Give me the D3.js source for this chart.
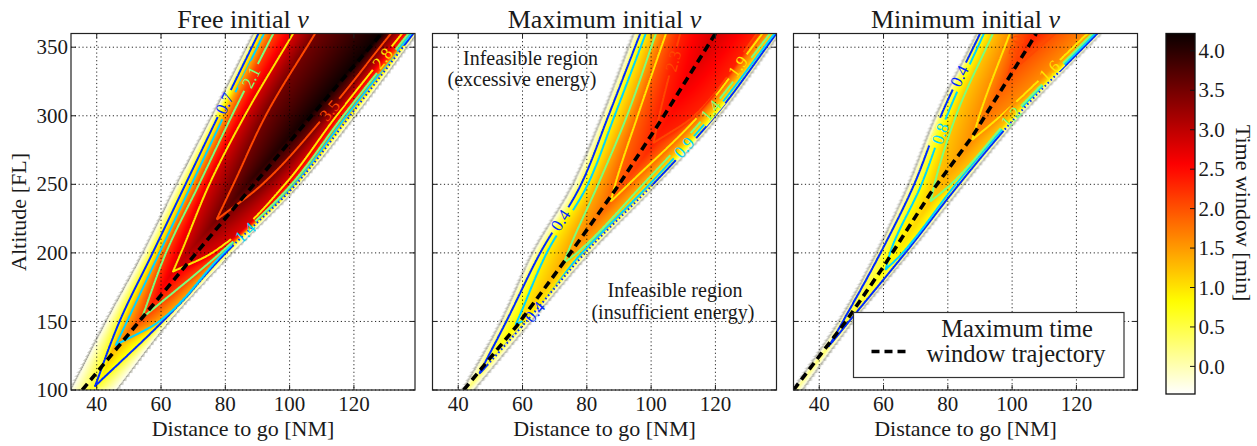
<!DOCTYPE html>
<html>
<head>
<meta charset="utf-8">
<script src="https://cdn.jsdelivr.net/npm/d3@7/dist/d3.min.js"></script>
<style>
  html,body{margin:0;padding:0;background:#fff;}
  svg{display:block;}
  text{font-family:"Liberation Serif","Times New Roman",serif;fill:#1a1a1a;}
</style>
</head>
<body>
<svg id="fig" width="1257" height="446"></svg>
<script>
// ================= DATA =================
const titles = ["Free initial", "Maximum initial", "Minimum initial"];
const titleVar = "v";
const xLabel = "Distance to go [NM]";
const yLabel = "Altitude [FL]";
const cbLabel = "Time window [min]";
const legendLines = ["Maximum time", "window trajectory"];
const noteTop = ["Infeasible region", "(excessive energy)"];
const noteBottom = ["Infeasible region", "(insufficient energy)"];
const xTicks = [40, 60, 80, 100, 120];
const yTicks = [100, 150, 200, 250, 300, 350];
const cbTicks = [0.0, 0.5, 1.0, 1.5, 2.0, 2.5, 3.0, 3.5, 4.0];
const xDomain = [32, 139];
const yDomain = [100, 360];
const cbDomain = [-0.35, 4.22];
const sampleAlt = [100, 150, 200, 250, 300, 360];

// ---- Panel 1: Free initial v ----
const p1Levels = [0.7, 1.4, 2.1, 2.8, 3.5];
const p1LevelText = ["0.7", "1.4", "2.1", "2.8", "3.5"];
const p1LeftEdge  = [32, 43, 54.5, 65, 76, 89];
const p1RightEdge = [46, 62.5, 82, 103, 120.3, 139.5];
const p1TipAlt  = [103, 132.8, 152.3, 186.3, 224];
const p1TipDist = [39.5, 45.9, 54, 63.7, 77.2];
const p1Left = [
  [null, 47.1, 57.4, 67.6, 77.8, 90.3],
  [null, 49.4, 59.5, 69.5, 79.6, 92],
  [null, null, 61.5, 71.8, 82, 94.9],
  [null, null, 66.2, 75, 86, 101.1],
  [null, null, null, 82.5, 92.5, 107.9]
];
const p1Right = [
  [null, 60.5, 80.1, 102, 118.8, 138.5],
  [null, 59.5, 79.5, 101.5, 117.7, 137.8],
  [null, null, 78.5, 100.6, 116.7, 137],
  [null, null, 76, 98.6, 114.6, 135],
  [null, null, null, 91.5, 111, 131.5]
];
const p1RidgeEnds = [37, 128.6];
const p1PeakEnds = [0.5, 4.22];
const p1PeakMidAlt = [255, 295];
const p1PeakMidVal = [3.95, 4.15];
const p1TrajDist = [35.5, 53.2, 71, 88.9, 106.8, 128.6];
const p1TrajAlt  = [100, 150, 200, 250, 300, 360];
const p1LabelLevel = [0, 2, 1, 4, 3];
const p1LabelSide  = ["L", "L", "R", "R", "R"];
const p1LabelAlt   = [309, 328, 215, 304, 342];
const p1DottedRange = [205, 352];

// ---- Panel 2: Maximum initial v ----
const p2Levels = [0.45, 0.93, 1.4, 1.87, 2.33];
const p2LevelText = ["0.4", "0.9", "1.4", "1.9", "2.3"];
const p2LeftEdge  = [41.6, 53.5, 63.3, 75.8, 85, 94.8];
const p2RightEdge = [44.7, 62.5, 80.8, 101.6, 121, 139.8];
const p2TipAlt  = [111, 147.4, 192.4, 237.4, 280];
const p2TipDist = [46.3, 57.8, 72.8, 87.4, 100.7];
const p2Left = [
  [null, 54.9, 65.5, 78.2, 86.7, 96.6],
  [null, 58.3, 67.5, 80.3, 88.6, 98.3],
  [null, null, 74, 83.5, 92.5, 101.5],
  [null, null, null, 88.8, 95.8, 104.6],
  [null, null, null, null, 102.5, 109]
];
const p2Right = [
  [null, 61.2, 79.5, 100.6, 120, 139],
  [null, 59.8, 78.5, 99.5, 118.8, 138.4],
  [null, null, 77, 97.5, 117, 137],
  [null, null, null, 93, 114.8, 134.6],
  [null, null, null, null, 113.5, 133]
];
const p2RidgeEnds = [42.6, 120];
const p2PeakEnds = [0.2, 2.85];
const p2PeakMidAlt = [320];
const p2PeakMidVal = [2.62];
const p2TrajDist = [41.7, 58.3, 73.4, 89.5, 104, 120];
const p2TrajAlt  = [100, 147, 195, 248, 300, 360];
const p2LabelLevel = [0, 0, 1, 2, 3, 4];
const p2LabelSide  = ["L", "R", "R", "R", "R", "L"];
const p2LabelAlt   = [224, 157, 277, 304, 336, 340];
const p2DottedRange = [118, 250];

// ---- Panel 3: Minimum initial v ----
const p3Levels = [0.4, 0.8, 1.2, 1.6, 2.0];
const p3LevelText = ["0.4", "0.8", "1.2", "1.6", "2.0"];
const p3LeftEdge  = [32, 46.3, 58, 68, 76.5, 89.3];
const p3RightEdge = [34.5, 50.3, 67.8, 84.8, 102.5, 127.5];
const p3TipAlt  = [131.6, 187.6, 237.4, 282.4, 330];
const p3TipDist = [42.9, 60.6, 74.6, 87.6, 98.8];
const p3Left = [
  [null, 47.3, 59, 69.5, 77.8, 90],
  [null, null, 62, 71.8, 79.7, 91.2],
  [null, null, null, 75.8, 82.5, 94],
  [null, null, null, null, 89.8, 99.3],
  [null, null, null, null, null, 102.3]
];
const p3Right = [
  [null, 49.3, 66.8, 83.5, 101.5, 126.5],
  [null, null, 66, 82.5, 100.8, 125.8],
  [null, null, null, 81, 100, 125],
  [null, null, null, null, 96.5, 123.5],
  [null, null, null, null, null, 113.5]
];
const p3RidgeEnds = [32.6, 107.5];
const p3PeakEnds = [0.15, 2.35];
const p3PeakMidAlt = [];
const p3PeakMidVal = [];
const p3TrajDist = [32, 48.6, 60, 74.6, 87.6, 105.7, 107.5];
const p3TrajAlt  = [100, 151, 190, 243.5, 284.8, 353, 360];
const p3LabelLevel = [0, 1, 2, 3, 4];
const p3LabelSide  = ["L", "L", "R", "R", "L"];
const p3LabelAlt   = [329, 287, 299, 333, 351];
const p3DottedRange = [290, 332];

// ================= LAYOUT =================
const plotTop = 33.5, plotBottom = 390;
const panelX = [71, 432.5, 793.5];
const panelW = 344;
const cb = {x: 1166, w: 29, top: 33.5, bottom: 394};
const vEdge = -0.28;

// ================= HELPERS =================
function lin(pts, x) {
  const n = pts.length;
  if (n === 1) return pts[0][1];
  let i = 1;
  if (x <= pts[0][0]) i = 1;
  else if (x >= pts[n-1][0]) i = n-1;
  else { while (i < n-1 && x > pts[i][0]) i++; }
  const [x0, y0] = pts[i-1], [x1, y1] = pts[i];
  return y0 + (y1 - y0) * (x - x0) / (x1 - x0);
}
// monotone cubic (Fritsch-Carlson) interpolator with linear extrapolation
function mono(pts) {
  const n = pts.length;
  if (n < 3) return x => lin(pts, x);
  const X = pts.map(p => p[0]), Y = pts.map(p => p[1]);
  const h = [], s = [];
  for (let i = 0; i < n - 1; i++) { h[i] = X[i+1] - X[i]; s[i] = (Y[i+1] - Y[i]) / h[i]; }
  const t = new Array(n);
  t[0] = s[0]; t[n-1] = s[n-2];
  for (let i = 1; i < n - 1; i++) {
    if (s[i-1] * s[i] <= 0) t[i] = 0;
    else t[i] = 3 * (h[i-1] + h[i]) / ((2 * h[i] + h[i-1]) / s[i-1] + (h[i] + 2 * h[i-1]) / s[i]);
  }
  return x => {
    if (x <= X[0]) return Y[0] + t[0] * (x - X[0]);
    if (x >= X[n-1]) return Y[n-1] + t[n-1] * (x - X[n-1]);
    let i = 0; while (i < n - 2 && x > X[i+1]) i++;
    const u = (x - X[i]) / h[i], u2 = u * u, u3 = u2 * u;
    return (2*u3 - 3*u2 + 1) * Y[i] + (u3 - 2*u2 + u) * h[i] * t[i] + (-2*u3 + 3*u2) * Y[i+1] + (u3 - u2) * h[i] * t[i+1];
  };
}
function hotColor(x) { // matplotlib 'hot'
  x = Math.max(0, Math.min(1, x));
  const r = x < 0.365079 ? 0.0416 + (1 - 0.0416) * x / 0.365079 : 1;
  const g = x < 0.365079 ? 0 : (x < 0.746032 ? (x - 0.365079) / (0.746032 - 0.365079) : 1);
  const b = x < 0.746032 ? 0 : (x - 0.746032) / (1 - 0.746032);
  return [r * 255, g * 255, b * 255];
}
const cNorm = d3.scaleLinear().domain(cbDomain).range([0, 1]).clamp(true);
function heat(v) { return hotColor(1 - cNorm(v)); } // hot_r
function jet(x) {
  const r = lin([[0,0],[0.35,0],[0.66,1],[0.89,1],[1,0.5]], x);
  const g = lin([[0,0],[0.125,0],[0.375,1],[0.64,1],[0.91,0],[1,0]], x);
  const b = lin([[0,0.5],[0.11,1],[0.34,1],[0.65,0],[1,0]], x);
  const c = v => Math.round(255 * Math.max(0, Math.min(1, v)));
  return `rgb(${c(r)},${c(g)},${c(b)})`;
}

function makePanel(o) {
  const P = {};
  P.levels = o.levels; P.text = o.text;
  P.L = mono(sampleAlt.map((a, i) => [a, o.leftEdge[i]]));
  P.R = mono(sampleAlt.map((a, i) => [a, o.rightEdge[i]]));
  P.tipAlt = o.tipAlt;
  const branch = (k, arr) => {
    const pts = [[o.tipAlt[k], o.tipDist[k]]];
    sampleAlt.forEach((a, i) => { if (arr[i] != null && a > o.tipAlt[k]) pts.push([a, arr[i]]); });
    return mono(pts);
  };
  P.leftB = o.levels.map((_, k) => branch(k, o.left[k]));
  P.rightB = o.levels.map((_, k) => branch(k, o.right[k]));
  P.ridge = mono([[100, o.ridgeEnds[0]]].concat(o.tipAlt.map((a, k) => [a, o.tipDist[k]]), [[360, o.ridgeEnds[1]]]));
  const peakPts = [[100, o.peakEnds[0]]]
    .concat(o.tipAlt.map((a, k) => [a, o.levels[k]]), o.peakMidAlt.map((a, i) => [a, o.peakMidVal[i]]), [[360, o.peakEnds[1]]])
    .sort((a, b) => a[0] - b[0]);
  P.peak = h => lin(peakPts, h);
  P.traj = o.trajDist.map((d, i) => [d, o.trajAlt[i]]);
  P.labels = o.labelLevel.map((k, i) => ({k, side: o.labelSide[i], alt: o.labelAlt[i]}));
  P.dotted = o.dotted;
  return P;
}
function rowKnots(P, h) {
  const L = P.L(h), R = P.R(h);
  let C = P.ridge(h);
  const pk = P.peak(h);
  const lefts = [], rights = [];
  P.levels.forEach((lv, k) => {
    if (h >= P.tipAlt[k]) { lefts.push([P.leftB[k](h), lv]); rights.push([P.rightB[k](h), lv]); }
  });
  if (lefts.length) {
    const il = lefts[lefts.length-1][0], ir = rights[rights.length-1][0];
    if (C <= il || C >= ir) C = (il + ir) / 2;
  }
  C = Math.max(L + 0.05, Math.min(R - 0.05, C));
  const knots = [[L, vEdge]];
  let prev = L;
  for (const [x, v] of lefts) { const xx = Math.min(Math.max(x, prev + 0.01), C - 0.01); knots.push([xx, v]); prev = xx; }
  knots.push([C, Math.max(pk, lefts.length ? lefts[lefts.length-1][1] + 0.01 : pk)]);
  prev = C;
  for (let i = rights.length - 1; i >= 0; i--) {
    const [x, v] = rights[i];
    const xx = Math.max(Math.min(x, R - 0.01), prev + 0.01);
    knots.push([xx, v]); prev = xx;
  }
  knots.push([Math.max(R, prev + 0.01), vEdge]);
  return knots;
}
function valueAt(knots, d) {
  if (d < knots[0][0] || d > knots[knots.length-1][0]) return NaN;
  for (let i = 1; i < knots.length; i++) {
    if (d <= knots[i][0]) {
      const [x0, v0] = knots[i-1], [x1, v1] = knots[i];
      return x1 === x0 ? v1 : v0 + (v1 - v0) * (d - x0) / (x1 - x0);
    }
  }
  return NaN;
}

const panels = [
  makePanel({levels: p1Levels, text: p1LevelText, leftEdge: p1LeftEdge, rightEdge: p1RightEdge, tipAlt: p1TipAlt, tipDist: p1TipDist,
    left: p1Left, right: p1Right, ridgeEnds: p1RidgeEnds, peakEnds: p1PeakEnds, peakMidAlt: p1PeakMidAlt, peakMidVal: p1PeakMidVal,
    trajDist: p1TrajDist, trajAlt: p1TrajAlt,
    labelLevel: p1LabelLevel, labelSide: p1LabelSide, labelAlt: p1LabelAlt, dotted: p1DottedRange}),
  makePanel({levels: p2Levels, text: p2LevelText, leftEdge: p2LeftEdge, rightEdge: p2RightEdge, tipAlt: p2TipAlt, tipDist: p2TipDist,
    left: p2Left, right: p2Right, ridgeEnds: p2RidgeEnds, peakEnds: p2PeakEnds, peakMidAlt: p2PeakMidAlt, peakMidVal: p2PeakMidVal,
    trajDist: p2TrajDist, trajAlt: p2TrajAlt,
    labelLevel: p2LabelLevel, labelSide: p2LabelSide, labelAlt: p2LabelAlt, dotted: p2DottedRange}),
  makePanel({levels: p3Levels, text: p3LevelText, leftEdge: p3LeftEdge, rightEdge: p3RightEdge, tipAlt: p3TipAlt, tipDist: p3TipDist,
    left: p3Left, right: p3Right, ridgeEnds: p3RidgeEnds, peakEnds: p3PeakEnds, peakMidAlt: p3PeakMidAlt, peakMidVal: p3PeakMidVal,
    trajDist: p3TrajDist, trajAlt: p3TrajAlt,
    labelLevel: p3LabelLevel, labelSide: p3LabelSide, labelAlt: p3LabelAlt, dotted: p3DottedRange})
];

// ================= DRAW =================
const svg = d3.select("#fig");
const defs = svg.append("defs");
const y = d3.scaleLinear().domain(yDomain).range([plotBottom, plotTop]);

panels.forEach((P, pi) => {
  const x0 = panelX[pi];
  const x = d3.scaleLinear().domain(xDomain).range([x0, x0 + panelW]);
  const g = svg.append("g");
  const clipId = "clip" + pi;
  defs.append("clipPath").attr("id", clipId).append("rect")
    .attr("x", x0).attr("y", plotTop).attr("width", panelW).attr("height", plotBottom - plotTop);

  // ---- heat image (canvas, per pixel through the scales) ----
  const cw = panelW, ch = Math.round(plotBottom - plotTop);
  const canvas = document.createElement("canvas");
  canvas.width = cw; canvas.height = ch;
  const ctx = canvas.getContext("2d");
  const img = ctx.createImageData(cw, ch);
  const kpx = panelW / (xDomain[1] - xDomain[0]);
  for (let py = 0; py < ch; py++) {
    const h = y.invert(plotTop + (py + 0.5) * (plotBottom - plotTop) / ch);
    const knots = rowKnots(P, h);
    const L = knots[0][0], R = knots[knots.length-1][0];
    const jag = (py % 4) * 0.6;
    for (let px = 0; px < cw; px++) {
      const d = x.invert(x0 + px + 0.5);
      const idx = (py * cw + px) * 4;
      let r = 255, gg = 255, b = 255;
      const v = valueAt(knots, d);
      if (!isNaN(v)) {
        [r, gg, b] = heat(v);
        const ein = Math.min(d - L, R - d) * kpx;
        if (ein < 1.2) { const a = 0.4 * (1 - ein / 1.2); r = r*(1-a)+165*a; gg = gg*(1-a)+165*a; b = b*(1-a)+150*a; }
      } else {
        const e = (d < L ? (L - d) : (d - R)) * kpx;
        const fw = 1.8 + jag;
        if (e < fw) {
          const a = 0.8 * (1 - e / fw) + 0.12;
          r = 255 - a * (255 - 155); gg = 255 - a * (255 - 155); b = 255 - a * (255 - 140);
        }
      }
      img.data[idx] = r; img.data[idx+1] = gg; img.data[idx+2] = b; img.data[idx+3] = 255;
    }
  }
  ctx.putImageData(img, 0, 0);
  g.append("image").attr("href", canvas.toDataURL())
    .attr("x", x0).attr("y", plotTop).attr("width", panelW).attr("height", plotBottom - plotTop)
    .attr("preserveAspectRatio", "none");

  // ---- grid ----
  const grid = g.append("g").attr("stroke", "#000").attr("stroke-width", 1).attr("stroke-dasharray", "1.2,2.6").attr("opacity", 0.85);
  xTicks.forEach(t => grid.append("line").attr("x1", x(t)).attr("x2", x(t)).attr("y1", plotTop).attr("y2", plotBottom));
  yTicks.forEach(t => grid.append("line").attr("x1", x0).attr("x2", x0 + panelW).attr("y1", y(t)).attr("y2", y(t)));

  // ---- contour grid ----
  const dx = 0.25, dh = 0.5, d0 = 29, h0 = 96;
  const n = Math.round((143 - d0) / dx) + 1, m = Math.round((366 - h0) / dh) + 1;
  const vals = new Float64Array(n * m);
  for (let j = 0; j < m; j++) {
    const h = h0 + j * dh;
    const knots = rowKnots(P, h);
    for (let i = 0; i < n; i++) {
      const v = valueAt(knots, d0 + i * dx);
      vals[j * n + i] = isNaN(v) ? -1 : v;
    }
  }
  const proj = d3.geoTransform({point: function(px, py) {
    this.stream.point(x(d0 + (px - 0.5) * dx), y(h0 + (py - 0.5) * dh));
  }});
  const path = d3.geoPath(proj);
  const contours = d3.contours().size([n, m]).thresholds(P.levels)(vals);

  // label placement (on the branch itself)
  const branchFn = (k, side) => side === "L" ? P.leftB[k] : P.rightB[k];
  const labelInfo = P.labels.map(lb => {
    const f = branchFn(lb.k, lb.side);
    const xa = x(f(lb.alt - 4)), ya = y(lb.alt - 4);
    const xb = x(f(lb.alt + 4)), yb = y(lb.alt + 4);
    const ang = Math.atan2(yb - ya, xb - xa) * 180 / Math.PI;
    return {cx: x(f(lb.alt)), cy: y(lb.alt), ang, text: P.text[lb.k], color: jet((lb.k + 1) / 6)};
  });

  const maskId = "mask" + pi;
  const mask = defs.append("mask").attr("id", maskId).attr("maskUnits", "userSpaceOnUse")
    .attr("x", 0).attr("y", 0).attr("width", 1257).attr("height", 446);
  mask.append("rect").attr("x", 0).attr("y", 0).attr("width", 1257).attr("height", 446).attr("fill", "#fff");
  labelInfo.forEach(l => {
    mask.append("rect").attr("x", -15).attr("y", -7.5).attr("width", 30).attr("height", 15).attr("fill", "#000")
      .attr("transform", `translate(${l.cx},${l.cy}) rotate(${l.ang})`);
  });
  // fragmented outer contour near the right edge
  const dot = P.dotted;
  const bandAlts = d3.range(dot[0], dot[1] + 0.01, 2);
  const bandPoly = bandAlts.map(a => [x(P.rightB[0](a) - 0.45), y(a)])
    .concat(bandAlts.slice().reverse().map(a => [x(P.R(a) + 1.5), y(a)]));
  mask.append("polygon").attr("points", bandPoly.map(p => p.join(",")).join(" ")).attr("fill", "#000");

  const cg = g.append("g").attr("clip-path", `url(#${clipId})`);
  const lines = cg.append("g").attr("mask", `url(#${maskId})`);
  contours.forEach((c, k) => {
    lines.append("path").attr("d", path(c)).attr("fill", "none")
      .attr("stroke", jet((k + 1) / 6)).attr("stroke-width", 2).attr("stroke-linejoin", "round");
  });
  cg.append("path")
    .attr("d", d3.line().x(a => x(P.rightB[0](a))).y(a => y(a))(bandAlts))
    .attr("fill", "none").attr("stroke", jet(1 / 6)).attr("stroke-width", 2).attr("stroke-dasharray", "1.6,2.6");

  labelInfo.forEach(l => {
    cg.append("text").attr("transform", `translate(${l.cx},${l.cy}) rotate(${l.ang})`)
      .attr("text-anchor", "middle").attr("dy", "0.35em").attr("font-size", 17)
      .style("fill", l.color).text(l.text);
  });

  // ---- trajectory ----
  cg.append("path").attr("d", d3.line().x(p => x(p[0])).y(p => y(p[1]))(P.traj))
    .attr("fill", "none").attr("stroke", "#000").attr("stroke-width", 3.6).attr("stroke-dasharray", "8,5");

  // ---- frame & ticks ----
  g.append("rect").attr("x", x0).attr("y", plotTop).attr("width", panelW).attr("height", plotBottom - plotTop)
    .attr("fill", "none").attr("stroke", "#222").attr("stroke-width", 1.2);
  const tk = g.append("g").attr("stroke", "#222").attr("stroke-width", 1);
  xTicks.forEach(t => {
    tk.append("line").attr("x1", x(t)).attr("x2", x(t)).attr("y1", plotBottom).attr("y2", plotBottom - 5);
    tk.append("line").attr("x1", x(t)).attr("x2", x(t)).attr("y1", plotTop).attr("y2", plotTop + 5);
    g.append("text").attr("x", x(t)).attr("y", 410.5).attr("text-anchor", "middle").attr("font-size", 21).text(t);
  });
  yTicks.forEach(t => {
    tk.append("line").attr("x1", x0).attr("x2", x0 + 5).attr("y1", y(t)).attr("y2", y(t));
    tk.append("line").attr("x1", x0 + panelW).attr("x2", x0 + panelW - 5).attr("y1", y(t)).attr("y2", y(t));
    if (pi === 0) g.append("text").attr("x", x0 - 3).attr("y", y(t)).attr("dy", "0.34em")
      .attr("text-anchor", "end").attr("font-size", 21).text(t);
  });
  g.append("text").attr("x", x0 + panelW / 2).attr("y", 435.5).attr("text-anchor", "middle").attr("font-size", 22).text(xLabel);
  const tt = g.append("text").attr("x", x0 + panelW / 2).attr("y", 28).attr("text-anchor", "middle").attr("font-size", 26);
  tt.append("tspan").text(titles[pi] + " ");
  tt.append("tspan").attr("font-style", "italic").text(titleVar);
});

// y label
svg.append("text").attr("transform", "translate(25.5,212) rotate(-90)").attr("text-anchor", "middle")
  .attr("font-size", 22).text(yLabel);

// two-line texts (annotations and legend label)
function twoLine(xc, yb, lines, size, gap) {
  const t = svg.append("text").attr("text-anchor", "middle").attr("font-size", size);
  t.append("tspan").attr("x", xc[0]).attr("y", yb).text(lines[0]);
  t.append("tspan").attr("x", xc[1]).attr("y", yb + gap).text(lines[1]);
  return t;
}
twoLine([530.5, 522], 64.5, noteTop, 20, 21.5);
twoLine([675, 673], 297, noteBottom, 20, 21.5);

// legend in panel 3
const lg = svg.append("g");
lg.append("rect").attr("x", 853.5).attr("y", 312.5).attr("width", 270.5).attr("height", 65)
  .attr("fill", "#fff").attr("stroke", "#333").attr("stroke-width", 1.2);
lg.append("line").attr("x1", 871.5).attr("x2", 906.5).attr("y1", 351.5).attr("y2", 351.5)
  .attr("stroke", "#000").attr("stroke-width", 3.6).attr("stroke-dasharray", "8,5");
twoLine([1017, 1016], 336.5, legendLines, 24.5, 25.8);

// colorbar
const cy = d3.scaleLinear().domain(cbDomain).range([cb.bottom, cb.top]);
const grad = defs.append("linearGradient").attr("id", "cbgrad").attr("x1", 0).attr("x2", 0).attr("y1", 1).attr("y2", 0);
d3.range(0, 1.0001, 0.02).forEach(t => {
  const v = cbDomain[0] + t * (cbDomain[1] - cbDomain[0]);
  const c = heat(v).map(Math.round);
  grad.append("stop").attr("offset", t).attr("stop-color", `rgb(${c[0]},${c[1]},${c[2]})`);
});
svg.append("rect").attr("x", cb.x).attr("y", cb.top).attr("width", cb.w).attr("height", cb.bottom - cb.top)
  .attr("fill", "url(#cbgrad)").attr("stroke", "#111").attr("stroke-width", 1.3);
cbTicks.forEach(t => {
  svg.append("line").attr("x1", cb.x + cb.w).attr("x2", cb.x + cb.w - 5).attr("y1", cy(t)).attr("y2", cy(t))
    .attr("stroke", "#111").attr("stroke-width", 1);
  svg.append("text").attr("x", cb.x + cb.w + 3.5).attr("y", cy(t)).attr("dy", "0.34em").attr("font-size", 21).text(t.toFixed(1));
});
svg.append("text").attr("transform", `translate(1236,213) rotate(90)`).attr("text-anchor", "middle")
  .attr("font-size", 22).text(cbLabel);
</script>
</body>
</html>
